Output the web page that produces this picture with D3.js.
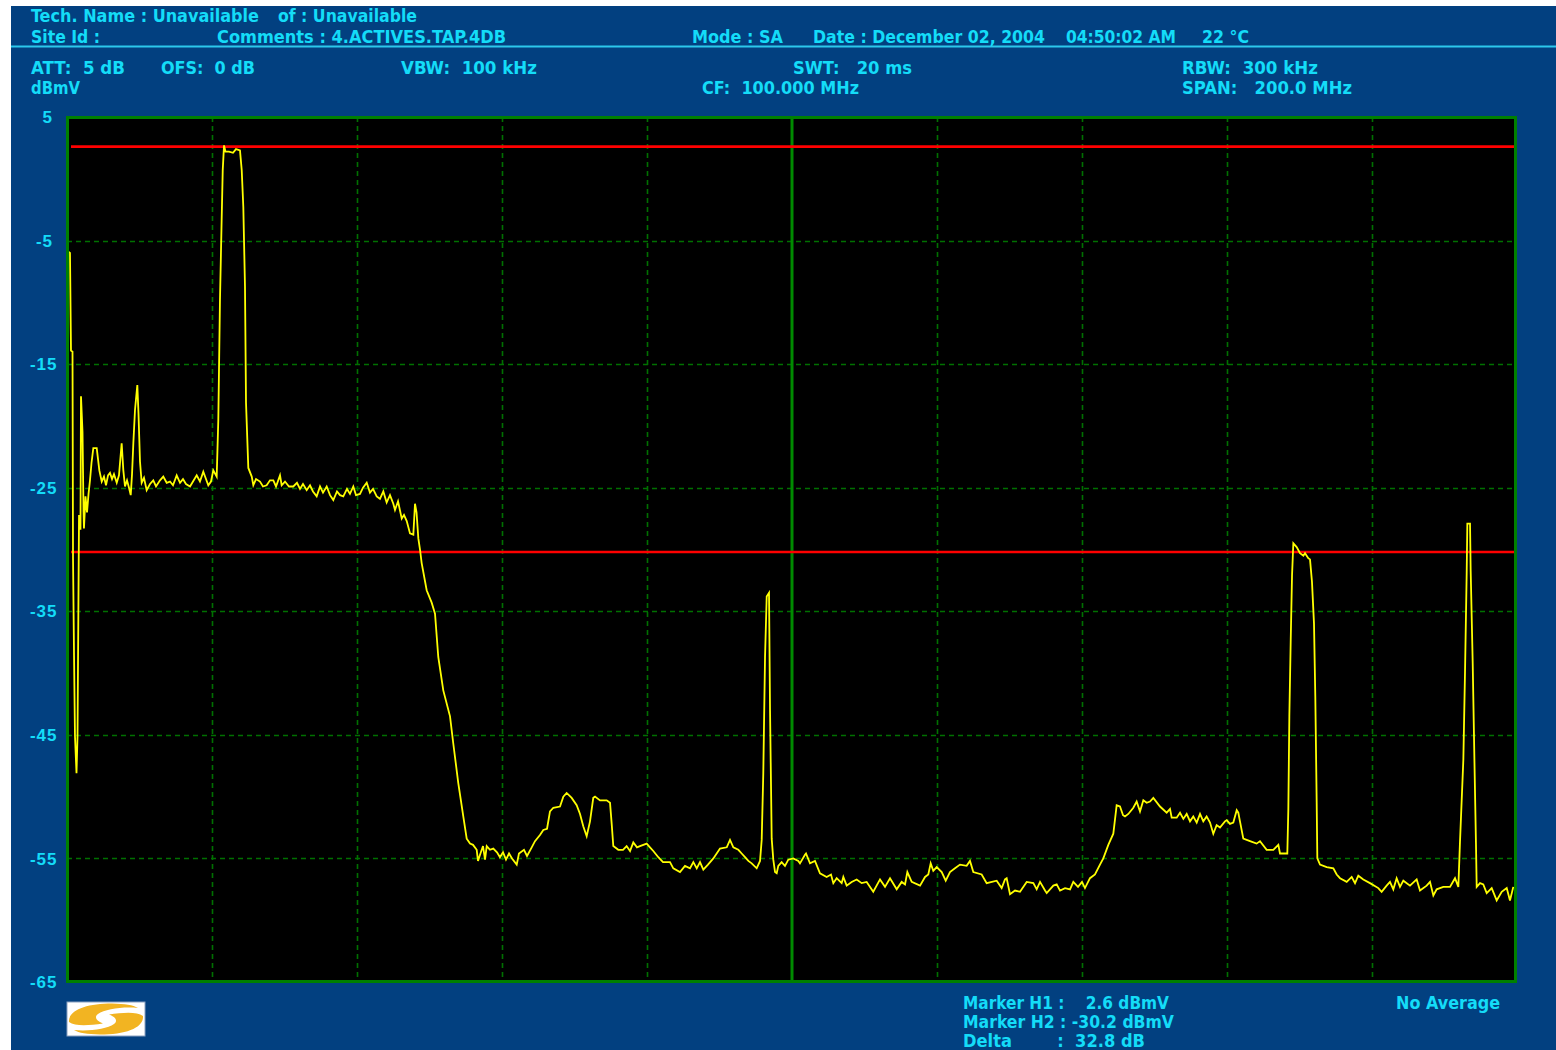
<!DOCTYPE html>
<html>
<head>
<meta charset="utf-8">
<script src="https://cdn.jsdelivr.net/npm/d3@7"></script>
<style>
  html, body { margin: 0; padding: 0; background: #ffffff; }
  svg { display: block; }
  text { white-space: pre; }
</style>
</head>
<body>
<svg id="chart" width="1556" height="1050"></svg>
<script>
// ---------------- DATA ----------------
const freqMHz = [
  0.18, 0.41, 0.55, 0.76, 0.83, 0.97, 1.10, 1.31, 1.45, 1.52,
  1.66, 1.86, 1.93, 2.14, 2.28, 2.34, 2.55, 2.76, 2.97, 3.17,
  3.38, 3.63, 4.10, 4.46, 4.79, 5.10, 5.38, 5.66, 5.93, 6.21,
  6.48, 6.86, 7.17, 7.54, 7.77, 8.00, 8.28, 8.55, 8.79, 8.97,
  9.15, 9.38, 9.70, 9.86, 10.07, 10.30, 10.62, 10.99, 11.45, 11.90,
  12.28, 12.83, 13.28, 13.75, 14.21, 14.62, 15.13, 15.59, 16.00, 16.41,
  16.97, 17.38, 17.89, 18.34, 18.80, 19.17, 19.49, 19.86, 20.18, 20.65,
  20.87, 21.10, 21.34, 21.48, 21.66, 21.86, 22.34, 22.90, 23.31, 23.86,
  24.10, 24.32, 24.55, 24.69, 25.01, 25.48, 25.70, 26.07, 26.62, 27.03,
  27.54, 28.00, 28.46, 28.83, 29.38, 29.61, 30.07, 30.62, 31.21, 31.72,
  32.14, 32.55, 33.06, 33.52, 33.93, 34.44, 34.90, 35.31, 35.82, 36.28,
  36.73, 37.24, 37.66, 38.11, 38.62, 39.03, 39.49, 39.86, 40.41, 40.83,
  41.34, 41.79, 42.21, 42.72, 43.17, 43.63, 44.09, 44.55, 45.01, 45.24,
  45.66, 46.17, 46.48, 46.86, 47.31, 47.77, 48.00, 48.21, 48.46, 48.69,
  48.92, 49.61, 50.30, 50.76, 51.21, 51.90, 52.83, 53.28, 53.97, 54.66,
  55.13, 55.59, 56.00, 56.51, 56.69, 56.97, 57.38, 57.66, 57.89, 58.34,
  58.80, 59.31, 59.72, 60.14, 60.55, 60.97, 61.38, 62.03, 62.34, 63.03,
  63.45, 64.10, 64.55, 65.24, 65.70, 66.21, 66.62, 67.08, 68.00, 68.46,
  68.92, 69.61, 70.30, 70.76, 71.21, 71.68, 72.14, 72.59, 72.83, 73.52,
  74.44, 74.90, 75.13, 75.35, 76.04, 76.69, 77.19, 77.66, 78.11, 78.62,
  79.03, 79.96, 80.41, 80.87, 81.56, 82.21, 83.17, 83.63, 84.55, 85.24,
  85.93, 86.39, 86.86, 87.31, 87.77, 88.41, 89.15, 90.07, 91.00, 91.45,
  91.91, 92.60, 93.06, 93.52, 93.98, 94.44, 95.13, 95.59, 95.82, 96.04,
  96.28, 96.51, 96.83, 96.97, 97.20, 97.42, 97.66, 97.89, 98.11, 98.57,
  99.03, 99.49, 100.18, 100.87, 101.10, 101.79, 101.93, 102.48, 103.17, 103.86,
  104.78, 105.38, 105.70, 106.16, 106.85, 107.08, 107.54, 108.23, 108.92, 109.61,
  110.30, 111.21, 112.14, 112.83, 113.52, 114.44, 115.13, 115.59, 115.91, 116.51,
  117.66, 118.35, 118.80, 119.13, 119.49, 119.96, 120.65, 121.20, 121.79, 122.48,
  123.17, 124.09, 124.55, 125.01, 126.16, 126.85, 128.23, 128.92, 129.38, 129.61,
  130.07, 130.76, 131.45, 132.37, 133.29, 133.75, 134.21, 134.90, 135.13, 136.05,
  136.51, 136.97, 137.66, 138.35, 138.80, 139.45, 140.00, 140.41, 141.10, 141.79,
  142.48, 142.94, 143.63, 144.32, 144.78, 145.24, 145.66, 145.93, 146.39, 147.08,
  147.54, 148.00, 148.46, 148.92, 149.38, 149.84, 150.76, 151.68, 152.14, 152.37,
  153.06, 153.52, 153.98, 154.44, 154.90, 155.35, 155.82, 156.28, 156.73, 157.19,
  157.66, 158.11, 158.57, 159.03, 159.72, 159.96, 160.41, 160.87, 161.34, 161.56,
  161.79, 162.25, 163.17, 164.09, 164.55, 165.47, 166.39, 167.08, 167.31, 167.77,
  168.32, 168.46, 168.60, 168.79, 168.97, 169.15, 169.61, 170.07, 170.53, 170.76,
  171.21, 171.45, 171.72, 172.00, 172.18, 172.37, 172.46, 172.83, 173.75, 174.67,
  175.13, 175.59, 176.51, 177.20, 177.66, 178.11, 178.80, 179.72, 180.87, 181.33,
  182.02, 182.48, 182.94, 183.40, 183.86, 184.32, 185.24, 186.16, 186.62, 187.54,
  188.00, 188.46, 188.92, 189.84, 190.76, 191.45, 191.91, 192.14, 192.60, 192.83,
  193.06, 193.15, 193.52, 193.61, 193.89, 194.11, 194.34, 194.44, 194.90, 195.35,
  195.82, 196.51, 197.20, 197.89, 198.58, 199.03, 199.49
];

const levelDbmv = [
  -5.9, -6.0, -13.9, -14.0, -30.7, -38.6, -45.1, -48.1, -45.1, -39.0,
  -27.2, -28.4, -17.6, -20.5, -27.0, -28.3, -25.7, -27.0, -25.5, -24.4,
  -23.0, -21.8, -21.8, -23.6, -24.5, -24.1, -24.8, -24.0, -23.8, -24.3,
  -23.9, -24.6, -24.0, -21.4, -23.6, -24.9, -24.4, -25.0, -25.6, -23.9,
  -21.4, -18.7, -16.7, -19.0, -22.9, -24.6, -24.2, -25.2, -24.7, -24.4,
  -24.9, -24.4, -24.1, -24.6, -24.5, -24.8, -24.0, -24.6, -24.3, -24.7,
  -24.9, -24.5, -24.0, -24.5, -23.7, -24.3, -24.8, -24.5, -23.6, -24.1,
  -19.5, -9.8, -3.1, 0.7, 2.7, 2.2, 2.2, 2.1, 2.4, 2.3,
  0.7, -2.3, -8.7, -18.1, -23.4, -24.1, -24.8, -24.3, -24.5, -24.9,
  -24.8, -24.4, -24.4, -24.9, -24.0, -24.8, -24.5, -24.9, -24.9, -24.6,
  -25.1, -24.7, -25.2, -24.8, -25.3, -25.7, -24.9, -25.4, -24.9, -25.6,
  -26.0, -25.3, -25.6, -25.7, -25.1, -25.5, -24.9, -25.6, -25.5, -25.0,
  -24.6, -25.4, -25.1, -25.7, -25.9, -25.3, -26.2, -25.6, -26.3, -26.8,
  -26.1, -27.5, -27.2, -27.7, -28.7, -28.8, -26.3, -27.0, -29.1, -30.0,
  -31.1, -33.3, -34.3, -35.2, -38.7, -41.4, -43.5, -45.7, -48.9, -51.6,
  -53.4, -53.8, -53.9, -54.3, -55.2, -54.7, -54.0, -55.1, -54.0, -54.3,
  -54.2, -54.5, -54.9, -54.5, -55.1, -54.6, -55.0, -55.5, -54.6, -54.3,
  -54.8, -54.1, -53.6, -53.1, -52.7, -52.6, -51.2, -50.9, -50.8, -50.0,
  -49.7, -50.1, -50.7, -51.4, -52.4, -53.2, -52.0, -50.1, -50.0, -50.3,
  -50.3, -50.5, -52.2, -54.0, -54.3, -54.3, -54.0, -54.4, -53.7, -54.1,
  -54.0, -53.8, -54.1, -54.4, -54.9, -55.3, -55.3, -55.8, -56.1, -55.6,
  -55.8, -55.3, -55.8, -55.3, -55.9, -55.5, -55.0, -54.2, -54.1, -53.5,
  -54.1, -54.3, -54.6, -54.9, -55.2, -55.4, -55.8, -55.2, -53.5, -48.1,
  -38.7, -33.8, -33.5, -43.0, -53.4, -55.1, -56.1, -56.2, -55.6, -55.3,
  -55.6, -55.1, -55.0, -55.2, -55.4, -54.7, -54.6, -55.4, -55.2, -56.2,
  -56.5, -56.3, -57.0, -56.6, -57.0, -56.5, -57.2, -56.9, -56.7, -57.0,
  -56.9, -57.7, -56.7, -57.3, -56.6, -57.5, -56.9, -57.1, -56.1, -56.9,
  -57.2, -56.5, -56.3, -55.4, -56.0, -55.7, -56.1, -56.8, -56.1, -55.8,
  -55.5, -55.6, -55.2, -56.1, -56.3, -57.0, -56.8, -57.4, -56.7, -56.6,
  -57.9, -57.6, -57.7, -56.9, -57.0, -57.5, -56.9, -57.6, -57.8, -57.2,
  -57.1, -57.6, -57.4, -57.5, -56.9, -57.3, -56.9, -57.4, -56.6, -56.3,
  -55.5, -55.0, -53.9, -53.0, -50.7, -50.8, -51.5, -51.6, -51.4, -50.9,
  -50.4, -51.2, -50.3, -50.5, -50.4, -50.1, -50.8, -51.3, -51.0, -51.7,
  -51.7, -51.3, -51.8, -51.4, -52.0, -51.6, -52.1, -51.4, -52.0, -51.6,
  -52.1, -53.0, -52.3, -52.5, -52.0, -51.9, -52.2, -52.1, -51.1, -51.3,
  -52.0, -53.4, -53.6, -53.8, -53.6, -54.3, -54.3, -53.9, -54.6, -54.6,
  -54.6, -51.0, -43.5, -37.3, -32.1, -29.5, -29.8, -30.3, -30.5, -30.3,
  -30.7, -30.8, -32.6, -36.0, -41.9, -50.5, -55.0, -55.5, -55.7, -55.8,
  -56.3, -56.6, -56.9, -56.5, -57.0, -56.4, -56.7, -57.0, -57.4, -57.7,
  -57.2, -56.9, -57.5, -56.6, -57.3, -56.8, -57.2, -56.7, -57.6, -57.2,
  -56.9, -58.0, -57.5, -57.3, -57.3, -56.6, -57.3, -53.6, -47.0, -39.9,
  -31.9, -27.9, -27.9, -31.7, -39.2, -46.5, -53.8, -57.3, -57.0, -57.1,
  -57.8, -57.4, -58.4, -57.7, -57.4, -58.4, -57.3
];

const yTickValues = [5, -5, -15, -25, -35, -45, -55, -65];
const yTickLabels = ["5", "-5", "-15", "-25", "-35", "-45", "-55", "-65"];
const xGridMHz = [0, 20, 40, 60, 80, 100, 120, 140, 160, 180, 200];
const centerFreqMHz = 100;
const markerLevels = [2.6, -30.2];

const headerRow1 = ["Tech. Name : Unavailable", "of : Unavailable"];
const headerRow2 = ["Site Id :", "Comments : 4.ACTIVES.TAP.4DB", "Mode : SA",
                    "Date : December 02, 2004", "04:50:02 AM", "22 °C"];
const headerRow3 = ["ATT:  5 dB", "OFS:  0 dB", "VBW:  100 kHz", "SWT:   20 ms", "RBW:  300 kHz"];
const headerRow4 = ["dBmV", "CF:  100.000 MHz", "SPAN:   200.0 MHz"];
const footerLines = ["Marker H1 :    2.6 dBmV", "Marker H2 : -30.2 dBmV", "Delta        :  32.8 dB"];
const footerRight = ["No Average"];

// ---------------- LAYOUT / STYLE ----------------
const W = 1556, H = 1050;
const BLUE = "#024080";
const CYAN = "#14dcf8";
const FONT = "'Liberation Sans Narrow', 'DejaVu Sans Condensed', 'Roboto', sans-serif";

// [x, width] per header entry, row baseline
const row1Layout = { y: 22, items: [[31, 228], [278, 139]] };
const row2Layout = { y: 43, items: [[31, 69], [217, 289], [692, 91], [813, 232], [1066, 110], [1202, 47]] };
const row3Layout = { y: 74, items: [[31, 94], [161, 94], [401, 136], [793, 119], [1182, 136]] };
const row4Layout = { y: 94, items: [[31, 49], [702, 157], [1182, 170]] };
const footerLayout = { x: 963, y0: 1009, dy: 19, widths: [206, 211, 182] };
const footerRightLayout = { x: 1396, y: 1009, width: 104 };

const svg = d3.select("#chart");

// background panel
svg.append("rect").attr("x", 11).attr("y", 6).attr("width", W - 11).attr("height", H - 6).attr("fill", BLUE);
svg.append("line").attr("x1", 11).attr("x2", W).attr("y1", 46.5).attr("y2", 46.5)
  .attr("stroke", "#2cc8ec").attr("stroke-width", 2);

// scales
const x = d3.scaleLinear().domain([0, 200]).range([67, 1517]);
const y = d3.scaleLinear().domain([5, -65]).range([117, 982]);

// plot background
svg.append("rect").attr("x", x(0)).attr("y", y(5)).attr("width", x(200) - x(0)).attr("height", y(-65) - y(5))
  .attr("fill", "#000000");

// dashed grid
const gridG = svg.append("g");
gridG.selectAll("line.h").data(yTickValues.slice(1, -1)).join("line")
  .attr("x1", x(0)).attr("x2", x(200))
  .attr("y1", d => Math.round(y(d)) + 0.5).attr("y2", d => Math.round(y(d)) + 0.5)
  .attr("stroke", "#007000").attr("stroke-width", 1.6).attr("stroke-dasharray", "5,4");
gridG.selectAll("line.v").data(xGridMHz.filter(f => f > 0 && f < 200 && f !== centerFreqMHz)).join("line")
  .attr("x1", d => Math.round(x(d)) + 0.5).attr("x2", d => Math.round(x(d)) + 0.5)
  .attr("y1", y(5)).attr("y2", y(-65))
  .attr("stroke", "#007000").attr("stroke-width", 1.6).attr("stroke-dasharray", "5,4");
// center solid line
gridG.append("line")
  .attr("x1", x(centerFreqMHz)).attr("x2", x(centerFreqMHz))
  .attr("y1", y(5)).attr("y2", y(-65))
  .attr("stroke", "#008a00").attr("stroke-width", 3);

// marker lines
svg.selectAll("line.marker").data(markerLevels).join("line")
  .attr("x1", x(0) + 4).attr("x2", x(200) - 2)
  .attr("y1", d => y(d)).attr("y2", d => y(d))
  .attr("stroke", "#ff0000").attr("stroke-width", 2.6);

// trace
const trace = freqMHz.map((f, i) => [f, levelDbmv[i]]);
const lineGen = d3.line().x(d => x(d[0])).y(d => y(d[1])).curve(d3.curveLinear);
svg.append("path").datum(trace)
  .attr("d", lineGen)
  .attr("fill", "none").attr("stroke", "#ffff00").attr("stroke-width", 1.8)
  .attr("stroke-linejoin", "miter");

// plot border
svg.append("rect").attr("x", x(0) + 0.5).attr("y", y(5) + 0.5)
  .attr("width", x(200) - x(0) - 2).attr("height", y(-65) - y(5) - 1)
  .attr("fill", "none").attr("stroke", "#008000").attr("stroke-width", 3);

// y axis labels
svg.selectAll("text.ytick").data(yTickValues).join("text")
  .attr("x", (d) => Math.abs(d) < 10 ? 53 : 57.5)
  .attr("y", d => y(d))
  .attr("dy", "0.36em")
  .attr("text-anchor", "end")
  .attr("font-family", "'Liberation Sans', Arial, sans-serif")
  .attr("font-weight", "bold").attr("font-size", 17)
  .attr("letter-spacing", 1)
  .attr("fill", CYAN)
  .text((d, i) => yTickLabels[i]);

// header text helper
function drawRow(texts, layout) {
  texts.forEach((t, i) => {
    const [tx, tw] = layout.items[i];
    svg.append("text").attr("x", tx).attr("y", layout.y)
      .attr("font-family", FONT).attr("font-weight", "bold").attr("font-size", 17)
      .attr("fill", CYAN)
      .attr("textLength", tw).attr("lengthAdjust", "spacingAndGlyphs")
      .text(t);
  });
}
drawRow(headerRow1, row1Layout);
drawRow(headerRow2, row2Layout);
drawRow(headerRow3, row3Layout);
drawRow(headerRow4, row4Layout);

footerLines.forEach((t, i) => {
  svg.append("text").attr("x", footerLayout.x).attr("y", footerLayout.y0 + i * footerLayout.dy)
    .attr("font-family", FONT).attr("font-weight", "bold").attr("font-size", 17)
    .attr("fill", CYAN)
    .attr("textLength", footerLayout.widths[i]).attr("lengthAdjust", "spacingAndGlyphs")
    .text(t);
});
svg.append("text").attr("x", footerRightLayout.x).attr("y", footerRightLayout.y)
  .attr("font-family", FONT).attr("font-weight", "bold").attr("font-size", 17)
  .attr("fill", CYAN)
  .attr("textLength", footerRightLayout.width).attr("lengthAdjust", "spacingAndGlyphs")
  .text(footerRight[0]);

// logo
const logo = svg.append("g").attr("transform", "translate(67,1002)");
logo.append("rect").attr("x", 0).attr("y", 0).attr("width", 78).attr("height", 34)
  .attr("fill", "#ffffff").attr("stroke", "#8aa0c0").attr("stroke-width", 1);
const swoosh = "M 2,20 C 1,8 20,1.5 45,1.5 C 58,1.8 66,3 71,6 C 56,4.5 38,7 31,12 C 27,15 29,19 36,21.5 C 22,23.5 8,24.5 2,20 Z";
logo.append("path").attr("d", swoosh).attr("fill", "#f2b422");
logo.append("path").attr("d", swoosh).attr("fill", "#f2b422")
  .attr("transform", "rotate(180 39 17)");
</script>
</body>
</html>
